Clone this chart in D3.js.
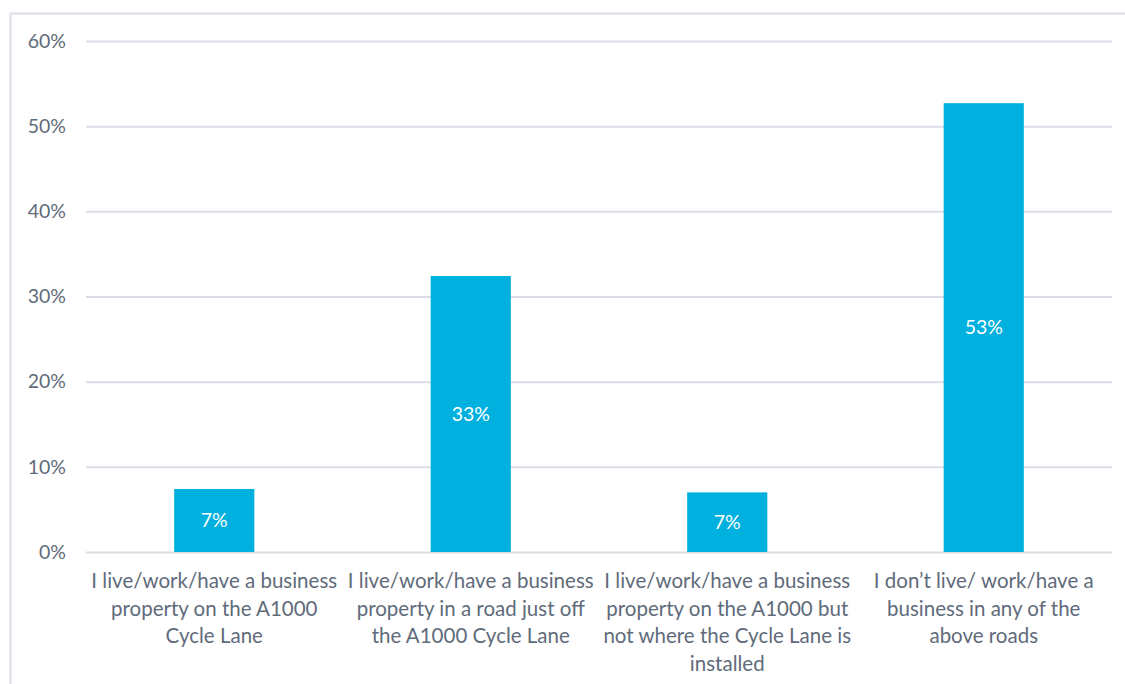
<!DOCTYPE html>
<html><head><meta charset="utf-8">
<script src="https://cdn.jsdelivr.net/npm/d3@7"></script>
<style>body{margin:0;background:#fff;} svg{display:block;}</style>
</head><body>
<svg id="chart" width="1125" height="684"></svg>
<script>
const categories = [
  ["I live/work/have a business", "property on the A1000", "Cycle Lane"],
  ["I live/work/have a business", "property in a road just off", "the A1000 Cycle Lane"],
  ["I live/work/have a business", "property on the A1000 but", "not where the Cycle Lane is", "installed"],
  ["I don\u2019t live/ work/have a", "business in any of the", "above roads"]
];
const values = [0.074, 0.324, 0.070, 0.527];
const valueLabels = ["7%", "33%", "7%", "53%"];
const yTicks = [0, 0.1, 0.2, 0.3, 0.4, 0.5, 0.6];

(function () {
const svg = d3.select("#chart");
const font = "Lato, 'Open Sans', sans-serif";
const textColor = "#5f6b7b";

svg.append("rect").attr("x", 10.5).attr("y", 13.5).attr("width", 1130).attr("height", 700)
  .attr("fill", "none").attr("stroke", "#d9dee5").attr("stroke-width", 2);

const mLeft = 86, mRight = 1112, mTop = 41, mBottom = 552;
const x = d3.scaleBand().domain(d3.range(categories.length)).range([mLeft, mRight]).paddingInner(0.6875).paddingOuter(0.34375);
const y = d3.scaleLinear().domain([0, 0.6]).range([mBottom, mTop]);

const yAxis = svg.append("g").attr("transform", `translate(${mLeft},0)`)
  .call(d3.axisLeft(y).tickValues(yTicks).tickFormat(d3.format(".0%")).tickSize(-(mRight - mLeft)).tickPadding(20));
yAxis.select(".domain").remove();
yAxis.selectAll(".tick line").attr("stroke", "#d9dee5").attr("stroke-width", 2);
yAxis.selectAll(".tick text").attr("fill", textColor).attr("font-family", font).attr("font-size", 19.5);

svg.append("g").selectAll("rect").data(values).join("rect")
  .attr("x", (d, i) => x(i)).attr("width", x.bandwidth())
  .attr("y", d => y(d)).attr("height", d => y(0) - y(d))
  .attr("fill", "#00b0de");

svg.append("g").selectAll("text").data(values).join("text")
  .attr("x", (d, i) => x(i) + x.bandwidth() / 2)
  .attr("y", d => (y(d) + y(0)) / 2)
  .attr("dy", "0.35em").attr("text-anchor", "middle")
  .attr("fill", "#ffffff").attr("font-family", font).attr("font-size", 19.5)
  .text((d, i) => valueLabels[i]);

const catG = svg.append("g");
categories.forEach((lines, i) => {
  const t = catG.append("text").attr("text-anchor", "middle")
    .attr("fill", textColor).attr("font-family", font).attr("font-size", 20.5);
  lines.forEach((ln, j) => {
    t.append("tspan").attr("x", x(i) + x.bandwidth() / 2).attr("y", 588 + j * 27.5).text(ln);
  });
});
})();
</script>
</body></html>
